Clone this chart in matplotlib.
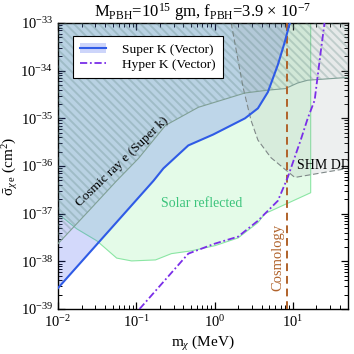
import matplotlib
matplotlib.use('Agg')
import matplotlib.pyplot as plt
from matplotlib.patches import Patch
from matplotlib.lines import Line2D
from matplotlib.ticker import NullFormatter

plt.rcParams['font.family'] = ['Liberation Serif', 'DejaVu Serif']
plt.rcParams['mathtext.fontset'] = 'custom'
plt.rcParams['mathtext.rm'] = 'Liberation Serif'
plt.rcParams['mathtext.it'] = 'Liberation Serif:italic'
plt.rcParams['mathtext.bf'] = 'Liberation Serif:bold'
plt.rcParams['hatch.linewidth'] = 1.4

# ---------------- data ----------------
superk_m = [0.01, 0.166, 0.222, 0.462, 0.96, 2.45, 3.58, 4.8, 6.43, 7.89, 9.14]
superk_s = [2.75e-39, 4.9e-37, 8.9e-37, 2.7e-36, 4.57e-36, 1.0e-35, 1.62e-35,
            3.55e-35, 1.32e-34, 4.0e-34, 1.0e-33]

hyperk_m = [0.110, 0.462, 1.0, 2.0, 3.58, 6.43, 8.6, 12.6, 15.5, 19.0, 22.6, 25.4]
hyperk_s = [1e-39, 1.45e-38, 2.34e-38, 3.3e-38, 7.1e-38, 1.86e-37, 5.75e-37,
            3.5e-36, 1.0e-35, 2.4e-35, 2.34e-34, 1e-33]

solar_m = [0.01, 0.0174, 0.0313, 0.0562, 0.0871, 0.176, 0.281, 0.505, 1.02,
           2.0, 3.58, 4.4, 16.9]
solar_s = [1e-37, 4.8e-38, 2.7e-38, 1.17e-38, 1.02e-38, 1.07e-38, 1.45e-38,
           1.66e-38, 2.14e-38, 3.1e-38, 6.5e-38, 1e-37, 2.75e-37]

cosmic_m = [0.01, 0.0248, 0.0562, 0.107, 0.236, 0.619, 2.45, 4.8, 8.0, 11.5, 15.5, 50]
cosmic_s = [2.34e-38, 1.15e-37, 4.9e-37, 1.45e-36, 7.1e-36, 1.7e-35, 3.4e-35,
            3.9e-35, 4.2e-35, 5.5e-35, 6.3e-35, 7.2e-35]

shm_m = [1.63, 2.31, 2.92, 3.58, 5.24, 10.6, 50]
shm_s = [1e-33, 4.5e-35, 9.1e-36, 3.5e-36, 1.5e-36, 5.75e-37, 8.9e-37]

cosmology_m = 8.3

x_major = [1e-2, 1e-1, 1e0, 1e1]
y_major = [1e-39, 1e-38, 1e-37, 1e-36, 1e-35, 1e-34, 1e-33]

xlim = (1e-2, 50)
ylim = (1e-39, 1e-33)

# ---------------- figure ----------------
fig = plt.figure(figsize=(3.54, 3.54), dpi=100)
ax = fig.add_axes([0.1638, 0.1271, 0.818, 0.808])
ax.set_xscale('log')
ax.set_yscale('log')

top = ylim[1]

# Solar reflected
sm = solar_m + [solar_m[-1]]
ss = solar_s + [top]
ax.fill_between(sm, ss, top, facecolor='#e4fbe8', edgecolor='none', zorder=1)
ax.plot(sm, ss, color='#8be6a4', lw=0.8, zorder=1.5)

# Super K band
ax.fill_between(superk_m, superk_s, top, facecolor='#3a55f0', alpha=0.22,
                edgecolor='none', zorder=2)

# SHM DD
shm_x = shm_m + [shm_m[-1]]
shm_y = shm_s + [top]
ax.fill(shm_x + [shm_m[0]], shm_y + [top], facecolor='#9aa3a3', alpha=0.17,
        edgecolor='none', zorder=2.2)
ax.plot(shm_m, shm_s, color='#7f8888', lw=0.8, ls=(0, (5, 2.5)), zorder=2.3)

# Cosmic ray e (Super K)
cx = cosmic_m + [cosmic_m[-1], cosmic_m[0]]
cy = cosmic_s + [top, top]
ax.fill(cx, cy, facecolor='#6a8a86', alpha=0.05, edgecolor='none', zorder=3)
ax.fill(cx, cy, facecolor='none', edgecolor='#5f8580', alpha=0.28,
        hatch='\\\\\\\\', lw=0, zorder=3.1)
ax.plot(cosmic_m, cosmic_s, color='#80a096', lw=0.8, zorder=3.2)

# lines
ax.plot(superk_m, superk_s, color='#2f5be6', lw=1.5, zorder=5)
ax.plot(hyperk_m, hyperk_s, color='#7a2ee8', lw=1.3,
        dashes=(4, 1.5, 1, 1.5), zorder=5)
ax.axvline(cosmology_m, color='#b0622a', lw=1.4, dashes=(4, 2.5), zorder=4)

# labels
ax.text(0.0656, 1.2e-36, 'Cosmic ray e (Super k)', rotation=44,
        ha='center', va='center', fontsize=9.5, color='black', zorder=6)
ax.text(0.69, 1.66e-37, 'Solar reflected', ha='center', va='center',
        fontsize=10, color='#3cc47c', zorder=6)
ax.text(11.3, 1.0e-36, 'SHM DD', ha='left', va='center', fontsize=10,
        color='black', zorder=6, clip_on=True)
ax.text(6.46, 1.2e-38, 'Cosmology', rotation=90, ha='center', va='center',
        fontsize=10.5, color='#b0622a', zorder=6)

# legend
h1 = (Patch(facecolor='#cdd5fa', edgecolor='none'),
      Line2D([], [], color='#2f5be6', lw=1.5))
h2 = Line2D([], [], color='#7a2ee8', lw=1.3, dashes=(4, 1.5, 1, 1.5))
leg = ax.legend([h1, h2], ['Super K (Vector)', 'Hyper K (Vector)'],
                loc='upper left', bbox_to_anchor=(0.052, 0.955),
                borderaxespad=0, fontsize=9.6, fancybox=False,
                framealpha=1, edgecolor='black', handlelength=1.9,
                handletextpad=1.2, labelspacing=0.2, borderpad=0.55)
leg.get_frame().set_linewidth(0.8)
leg.set_zorder(10)

# ticks (only within the visible range)
x_minor = [k * d for d in [1e-2, 1e-1, 1e0, 1e1] for k in range(2, 10) if k * d <= xlim[1]]
y_minor = [k * d for d in [1e-39, 1e-38, 1e-37, 1e-36, 1e-35, 1e-34] for k in range(2, 10)]
ax.set_xticks(x_major)
ax.set_xticks(x_minor, minor=True)
ax.set_yticks(y_major)
ax.set_yticks(y_minor, minor=True)
ax.xaxis.set_minor_formatter(NullFormatter())
ax.yaxis.set_minor_formatter(NullFormatter())
ax.set_xlim(*xlim)
ax.set_ylim(*ylim)
ax.tick_params(which='both', direction='in', top=True, right=True, labelsize=10.5)
ax.tick_params(which='major', length=5, width=0.9)
ax.tick_params(which='minor', length=3, width=0.7)
for sp in ax.spines.values():
    sp.set_linewidth(1.0)

ax.set_xlabel(r'm$_{\chi}$ (MeV)', fontsize=11, labelpad=3)
ax.set_ylabel(r'$\bar{\mathrm{\sigma}}_{\chi\,\mathrm{e}}$ (cm$^2$)', fontsize=11, labelpad=0)
ax.set_title(r'M$_{\mathrm{PBH}}$=10$^{15}$ gm, f$_{\mathrm{PBH}}$=3.9 $\times$ 10$^{-7}$',
             fontsize=12, pad=3)

fig.savefig('out.png', dpi=100)
